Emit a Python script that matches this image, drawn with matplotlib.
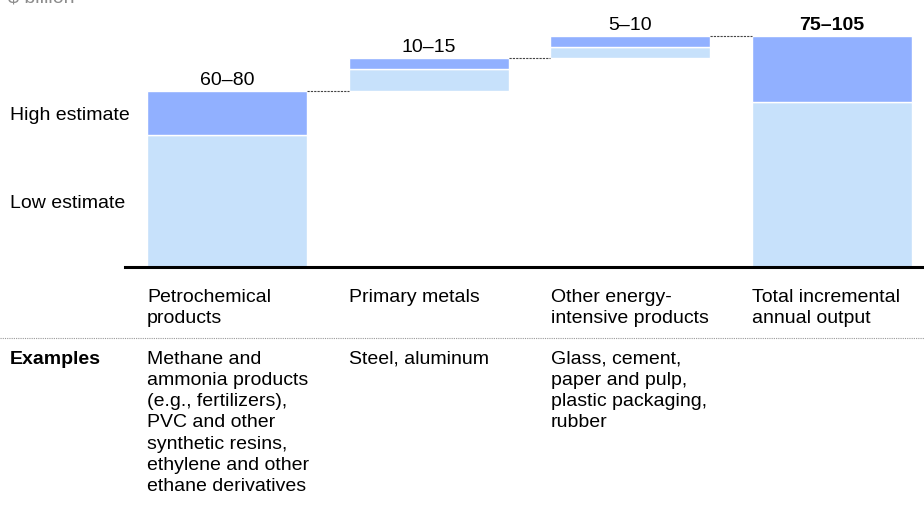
import matplotlib
matplotlib.use("Agg")
import matplotlib.pyplot as plt
import numpy as np

plt.rcParams['font.family'] = ['Liberation Sans', 'DejaVu Sans']
plt.rcParams['font.size'] = 14

# data ($ billion)
categories = ['Petrochemical\nproducts', 'Primary metals',
              'Other energy-\nintensive products', 'Total incremental\nannual output']
low = [60, 10, 5, 75]
high = [80, 15, 10, 105]
range_labels = ['60–80', '10–15', '5–10', '75–105']
examples = ['Methane and\nammonia products\n(e.g., fertilizers),\nPVC and other\nsynthetic resins,\nethylene and other\nethane derivatives',
            'Steel, aluminum',
            'Glass, cement,\npaper and pulp,\nplastic packaging,\nrubber']

c_low = '#c7e1fb'
c_high = '#91b0ff'
fs = 14

W, H = 924, 508
fig = plt.figure(figsize=(W / 100, H / 100), dpi=100)

# axes spans from baseline (y=267px) to top, x from 125px to right edge
ax = fig.add_axes([125 / W, (H - 267) / H, (W - 125) / W, 267 / H])
ax.set_ylim(0, 267 / 2.2)
unit = 201.7
ax.set_xlim(-(227 - 125) / unit, (W - 227) / unit)
ax.axis('off')

bw = 160 / unit
x = np.arange(len(categories))

# waterfall: each step starts at previous high total, last bar is the total
bottoms = []
run = 0
for i in range(len(categories)):
    if i == len(categories) - 1:
        bottoms.append(0)
    else:
        bottoms.append(run)
        run += high[i]

for i in range(len(categories)):
    b = bottoms[i]
    ax.bar(x[i], low[i], bw, bottom=b, color=c_low, edgecolor='white', linewidth=1)
    ax.bar(x[i], high[i] - low[i], bw, bottom=b + low[i], color=c_high,
           edgecolor='white', linewidth=1)
    top = b + high[i]
    ax.annotate(range_labels[i], (x[i], top), xytext=(0, 1.5), textcoords='offset points',
                ha='center', va='bottom', fontsize=fs,
                fontweight='bold' if i == len(categories) - 1 else 'normal')
    if i < len(categories) - 1:
        ax.plot([x[i] + bw / 2, x[i + 1] - bw / 2], [top, top], color='#444444',
                linestyle=(0, (2, 1)), linewidth=0.8)

ax.axhline(0, color='black', linewidth=2.2, clip_on=False)

def fx(px):
    return px / W

def fy(px):
    return 1 - px / H

fig.text(fx(8), fy(3), '$ billion', color='#8c8c8c', fontsize=fs, va='baseline')
fig.text(fx(10), fy(115), 'High estimate', va='center', fontsize=fs)
fig.text(fx(10), fy(204), 'Low estimate', va='center', fontsize=fs)

label_x = [147, 349, 551, 752]
for i, lab in enumerate(categories):
    fig.text(fx(label_x[i]), fy(289), lab, va='top', ha='left', fontsize=fs,
             linespacing=1.32)

fig.add_artist(plt.Line2D([0, 1], [fy(338), fy(338)], color='#999999',
                          linestyle=(0, (1, 1)), linewidth=0.8))

fig.text(fx(10), fy(351), 'Examples', va='top', fontweight='bold', fontsize=fs)
for i, ex in enumerate(examples):
    fig.text(fx(label_x[i]), fy(351), ex, va='top', ha='left', fontsize=fs,
             linespacing=1.32)

fig.savefig('out.png', dpi=100)
